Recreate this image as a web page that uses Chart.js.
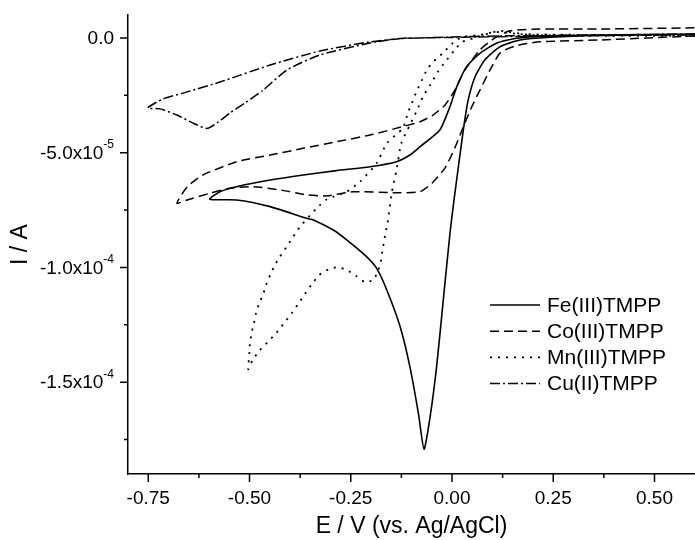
<!DOCTYPE html>
<html>
<head>
<meta charset="utf-8">
<script src="https://cdn.jsdelivr.net/npm/chart.js@4.4.0/dist/chart.umd.min.js"></script>
<style>
  html, body { margin: 0; padding: 0; background: #fff; }
</style>
</head>
<body>
<canvas id="cvChart" width="695" height="540"></canvas>
<script>
// potentials (V vs Ag/AgCl) and currents (A)
const feE = [0.60, 0.365, 0.242, 0.168, 0.119, 0.081, 0.057, 0.040, 0.028, 0.005, -0.005, -0.0215, -0.038, -0.054, -0.069, -0.083, -0.104, -0.128, -0.161, -0.186, -0.211, -0.26, -0.293, -0.342, -0.359, -0.449, -0.532, -0.598,
             -0.573, -0.532, -0.449, -0.367, -0.285, -0.2025, -0.137, -0.104, -0.079, -0.030, -0.005, 0.012, 0.036, 0.069, 0.110, 0.160, 0.242, 0.60];
const feI = [0.17e-5, 0.11e-5, 0.03e-5, -0.09e-5, -0.38e-5, -0.96e-5, -1.69e-5, -2.70e-5, -4.01e-5, -7.06e-5, -8.51e-5, -11.42e-5, -14.32e-5, -16.50e-5, -17.92e-5, -16.35e-5, -14.32e-5, -12.58e-5, -10.98e-5, -10.04e-5, -9.53e-5, -8.80e-5, -8.37e-5, -7.93e-5, -7.86e-5, -7.35e-5, -7.06e-5, -7.03e-5,
             -6.70e-5, -6.48e-5, -6.19e-5, -5.97e-5, -5.78e-5, -5.61e-5, -5.39e-5, -5.10e-5, -4.74e-5, -4.01e-5, -2.99e-5, -2.12e-5, -1.25e-5, -0.67e-5, -0.23e-5, -0.01e-5, 0.09e-5, 0.17e-5];

const coE = [0.60, 0.365, 0.217, 0.156, 0.119, 0.094, 0.069, 0.049, 0.032, 0.007, -0.017, -0.049, -0.079, -0.146, -0.244, -0.309, -0.358, -0.425, -0.491, -0.548, -0.598, -0.654, -0.679,
             -0.654, -0.615, -0.531, -0.449, -0.368, -0.284, -0.2025, -0.121, -0.079, -0.047, -0.017, 0.007, 0.032, 0.069, 0.106, 0.143, 0.217, 0.365, 0.60];
const coI = [0.09e-5, -0.09e-5, -0.17e-5, -0.35e-5, -0.65e-5, -1.39e-5, -2.27e-5, -2.99e-5, -3.70e-5, -4.79e-5, -5.66e-5, -6.32e-5, -6.70e-5, -6.74e-5, -6.70e-5, -6.88e-5, -6.84e-5, -6.62e-5, -6.48e-5, -6.55e-5, -6.77e-5, -7.06e-5, -7.20e-5,
             -6.49e-5, -5.97e-5, -5.39e-5, -5.10e-5, -4.81e-5, -4.52e-5, -4.23e-5, -3.86e-5, -3.65e-5, -3.36e-5, -2.92e-5, -2.27e-5, -1.39e-5, -0.52e-5, 0.0, 0.31e-5, 0.39e-5, 0.39e-5, 0.44e-5];

const mnE = [0.60, 0.365, 0.193, 0.119, 0.094, 0.057, 0.025, 0.007, -0.017, -0.035, -0.054, -0.072, -0.086, -0.104, -0.125, -0.137, -0.149, -0.159, -0.164, -0.168, -0.172, -0.176, -0.182, -0.194, -0.215, -0.237, -0.260, -0.283, -0.305, -0.328, -0.346, -0.363, -0.380, -0.396, -0.415, -0.433, -0.454, -0.476, -0.492, -0.503,
             -0.500, -0.499, -0.495, -0.489, -0.484, -0.476, -0.467, -0.459, -0.449, -0.437, -0.425, -0.408, -0.392, -0.375, -0.334, -0.309, -0.260, -0.227, -0.186, -0.161, -0.121, -0.109, -0.099, -0.086, -0.074, -0.062, -0.047, -0.022, 0.002, 0.025, 0.069, 0.106, 0.168, 0.365, 0.60];
const mnI = [0.09e-5, 0.09e-5, 0.13e-5, 0.31e-5, 0.22e-5, 0.0, -0.17e-5, -0.52e-5, -1.05e-5, -1.48e-5, -2.05e-5, -2.57e-5, -3.14e-5, -3.79e-5, -4.58e-5, -5.75e-5, -6.77e-5, -8.05e-5, -8.48e-5, -8.88e-5, -9.31e-5, -9.75e-5, -10.11e-5, -10.54e-5, -10.64e-5, -10.37e-5, -10.11e-5, -9.99e-5, -10.08e-5, -10.33e-5, -10.73e-5, -11.15e-5, -11.60e-5, -12.00e-5, -12.43e-5, -12.84e-5, -13.23e-5, -13.64e-5, -14.03e-5, -14.44e-5,
             -13.67e-5, -13.30e-5, -12.87e-5, -12.43e-5, -12.00e-5, -11.56e-5, -11.20e-5, -10.76e-5, -10.33e-5, -9.89e-5, -9.53e-5, -9.09e-5, -8.66e-5, -8.22e-5, -7.42e-5, -7.03e-5, -6.70e-5, -6.26e-5, -5.46e-5, -4.59e-5, -3.92e-5, -3.27e-5, -2.83e-5, -2.27e-5, -1.83e-5, -1.39e-5, -1.05e-5, -0.65e-5, -0.22e-5, 0.04e-5, 0.13e-5, 0.26e-5, 0.17e-5, 0.13e-5, 0.13e-5];

const cuE = [0.60, 0.365, 0.119, -0.005, -0.079, -0.128, -0.2025, -0.326, -0.407, -0.469, -0.511, -0.548, -0.580, -0.605, -0.635, -0.679, -0.721, -0.751,
             -0.714, -0.654, -0.573, -0.449, -0.326, -0.2025, -0.121, -0.005, 0.242, 0.60];
const cuI = [0.17e-5, 0.13e-5, 0.09e-5, 0.04e-5, 0.0, -0.02e-5, -0.22e-5, -0.74e-5, -1.39e-5, -2.31e-5, -2.83e-5, -3.27e-5, -3.70e-5, -3.94e-5, -3.75e-5, -3.36e-5, -3.09e-5, -3.05e-5,
             -2.66e-5, -2.35e-5, -1.92e-5, -1.18e-5, -0.57e-5, -0.17e-5, -0.02e-5, 0.02e-5, 0.09e-5, 0.13e-5];

const seriesNames = ['Fe(III)TMPP', 'Co(III)TMPP', 'Mn(III)TMPP', 'Cu(II)TMPP'];

// axis ticks
const xTicks = [-0.75, -0.50, -0.25, 0.00, 0.25, 0.50];
const xTickLabels = ['-0.75', '-0.50', '-0.25', '0.00', '0.25', '0.50'];
const xMinorTicks = [-0.625, -0.375, -0.125, 0.125, 0.375];
const yTicks = [0, -5e-5, -1e-4, -1.5e-4];
const yTickBase = ['0.0', '-5.0x10', '-1.0x10', '-1.5x10'];
const yTickExp = ['', '-5', '-4', '-4'];
const yMinorTicks = [-2.5e-5, -7.5e-5, -1.25e-4, -1.75e-4];

const FONT = '"Liberation Sans", Arial, sans-serif';
Chart.defaults.font.family = FONT;
Chart.defaults.color = '#000';

const toPoints = (xs, ys) => xs.map((x, i) => ({ x: x, y: ys[i] }));

// tick marks (major and minor, pointing outward) and the y labels with exponents
const axisDecor = {
    id: 'axisDecor',
    afterDraw(chart) {
        const ctx = chart.ctx;
        const x = chart.scales.x, y = chart.scales.y;
        const area = chart.chartArea;
        ctx.save();
        ctx.strokeStyle = '#000';
        ctx.lineWidth = 1.5;
        ctx.beginPath();
        xTicks.forEach(v => { const px = x.getPixelForValue(v); ctx.moveTo(px, area.bottom); ctx.lineTo(px, area.bottom + 8); });
        xMinorTicks.forEach(v => { const px = x.getPixelForValue(v); ctx.moveTo(px, area.bottom); ctx.lineTo(px, area.bottom + 4); });
        yTicks.forEach(v => { const py = y.getPixelForValue(v); ctx.moveTo(area.left - 8, py); ctx.lineTo(area.left, py); });
        yMinorTicks.forEach(v => { const py = y.getPixelForValue(v); ctx.moveTo(area.left - 4, py); ctx.lineTo(area.left, py); });
        ctx.stroke();

        ctx.fillStyle = '#000';
        ctx.textBaseline = 'middle';
        const right = area.left - 14;
        yTicks.forEach((v, i) => {
            const py = y.getPixelForValue(v);
            ctx.font = '12px ' + FONT;
            const expW = yTickExp[i] ? ctx.measureText(yTickExp[i]).width : 0;
            ctx.textAlign = 'left';
            if (yTickExp[i]) ctx.fillText(yTickExp[i], right - expW, py - 8);
            ctx.font = '19px ' + FONT;
            ctx.textAlign = 'right';
            ctx.fillText(yTickBase[i], right - expW, py + 1);
        });
        ctx.restore();
    }
};

// legend drawn inside the plot, line samples with each dataset's dash
const lineLegend = {
    id: 'lineLegend',
    afterDraw(chart) {
        const ctx = chart.ctx;
        ctx.save();
        chart.data.datasets.forEach((ds, i) => {
            const yy = 305 + i * 26.2;
            ctx.strokeStyle = '#000';
            ctx.lineWidth = ds.borderWidth;
            ctx.setLineDash(ds.borderDash || []);
            ctx.beginPath();
            ctx.moveTo(490, yy);
            ctx.lineTo(540, yy);
            ctx.stroke();
            ctx.setLineDash([]);
            ctx.fillStyle = '#000';
            ctx.font = '21px ' + FONT;
            ctx.textAlign = 'left';
            ctx.textBaseline = 'middle';
            ctx.fillText(ds.label, 547, yy + 1);
        });
        ctx.restore();
    }
};

const ctx = document.getElementById('cvChart').getContext('2d');
new Chart(ctx, {
    type: 'scatter',
    data: {
        datasets: [
            { label: seriesNames[0], data: toPoints(feE, feI), borderWidth: 1.6, borderDash: [] },
            { label: seriesNames[1], data: toPoints(coE, coI), borderWidth: 1.5, borderDash: [9, 5] },
            { label: seriesNames[2], data: toPoints(mnE, mnI), borderWidth: 1.8, borderDash: [2, 6] },
            { label: seriesNames[3], data: toPoints(cuE, cuI), borderWidth: 1.5, borderDash: [10, 3, 2, 3] }
        ].map(ds => Object.assign(ds, {
            showLine: true,
            borderColor: '#000',
            backgroundColor: '#000',
            pointRadius: 0,
            pointHoverRadius: 0,
            tension: 0.2,
            fill: false
        }))
    },
    options: {
        responsive: false,
        animation: false,
        devicePixelRatio: 1,
        layout: { padding: { top: 15, right: 0, bottom: 0, left: 0 } },
        plugins: { legend: { display: false }, tooltip: { enabled: false } },
        scales: {
            x: {
                type: 'linear',
                min: -0.8,
                max: 0.6,
                grid: { display: false },
                border: { display: true, color: '#000', width: 1.5 },
                afterBuildTicks: s => { s.ticks = xTicks.map(v => ({ value: v })); },
                afterFit: s => { s.height = 66; },
                ticks: {
                    color: '#000',
                    font: { size: 19 },
                    padding: 5,
                    maxRotation: 0,
                    autoSkip: false,
                    callback: (v, i) => xTickLabels[i]
                },
                title: { display: true, text: 'E / V (vs. Ag/AgCl)', color: '#000', font: { size: 23 }, padding: 0 }
            },
            y: {
                type: 'linear',
                min: -1.9e-4,
                max: 1.0e-5,
                grid: { display: false },
                border: { display: true, color: '#000', width: 1.5 },
                afterBuildTicks: s => { s.ticks = yTicks.map(v => ({ value: v })); },
                afterFit: s => { s.width = 128; },
                ticks: { display: false },
                title: { display: true, text: 'I / A', color: '#000', font: { size: 23 }, padding: 7 }
            }
        }
    },
    plugins: [axisDecor, lineLegend]
});
</script>
</body>
</html>
